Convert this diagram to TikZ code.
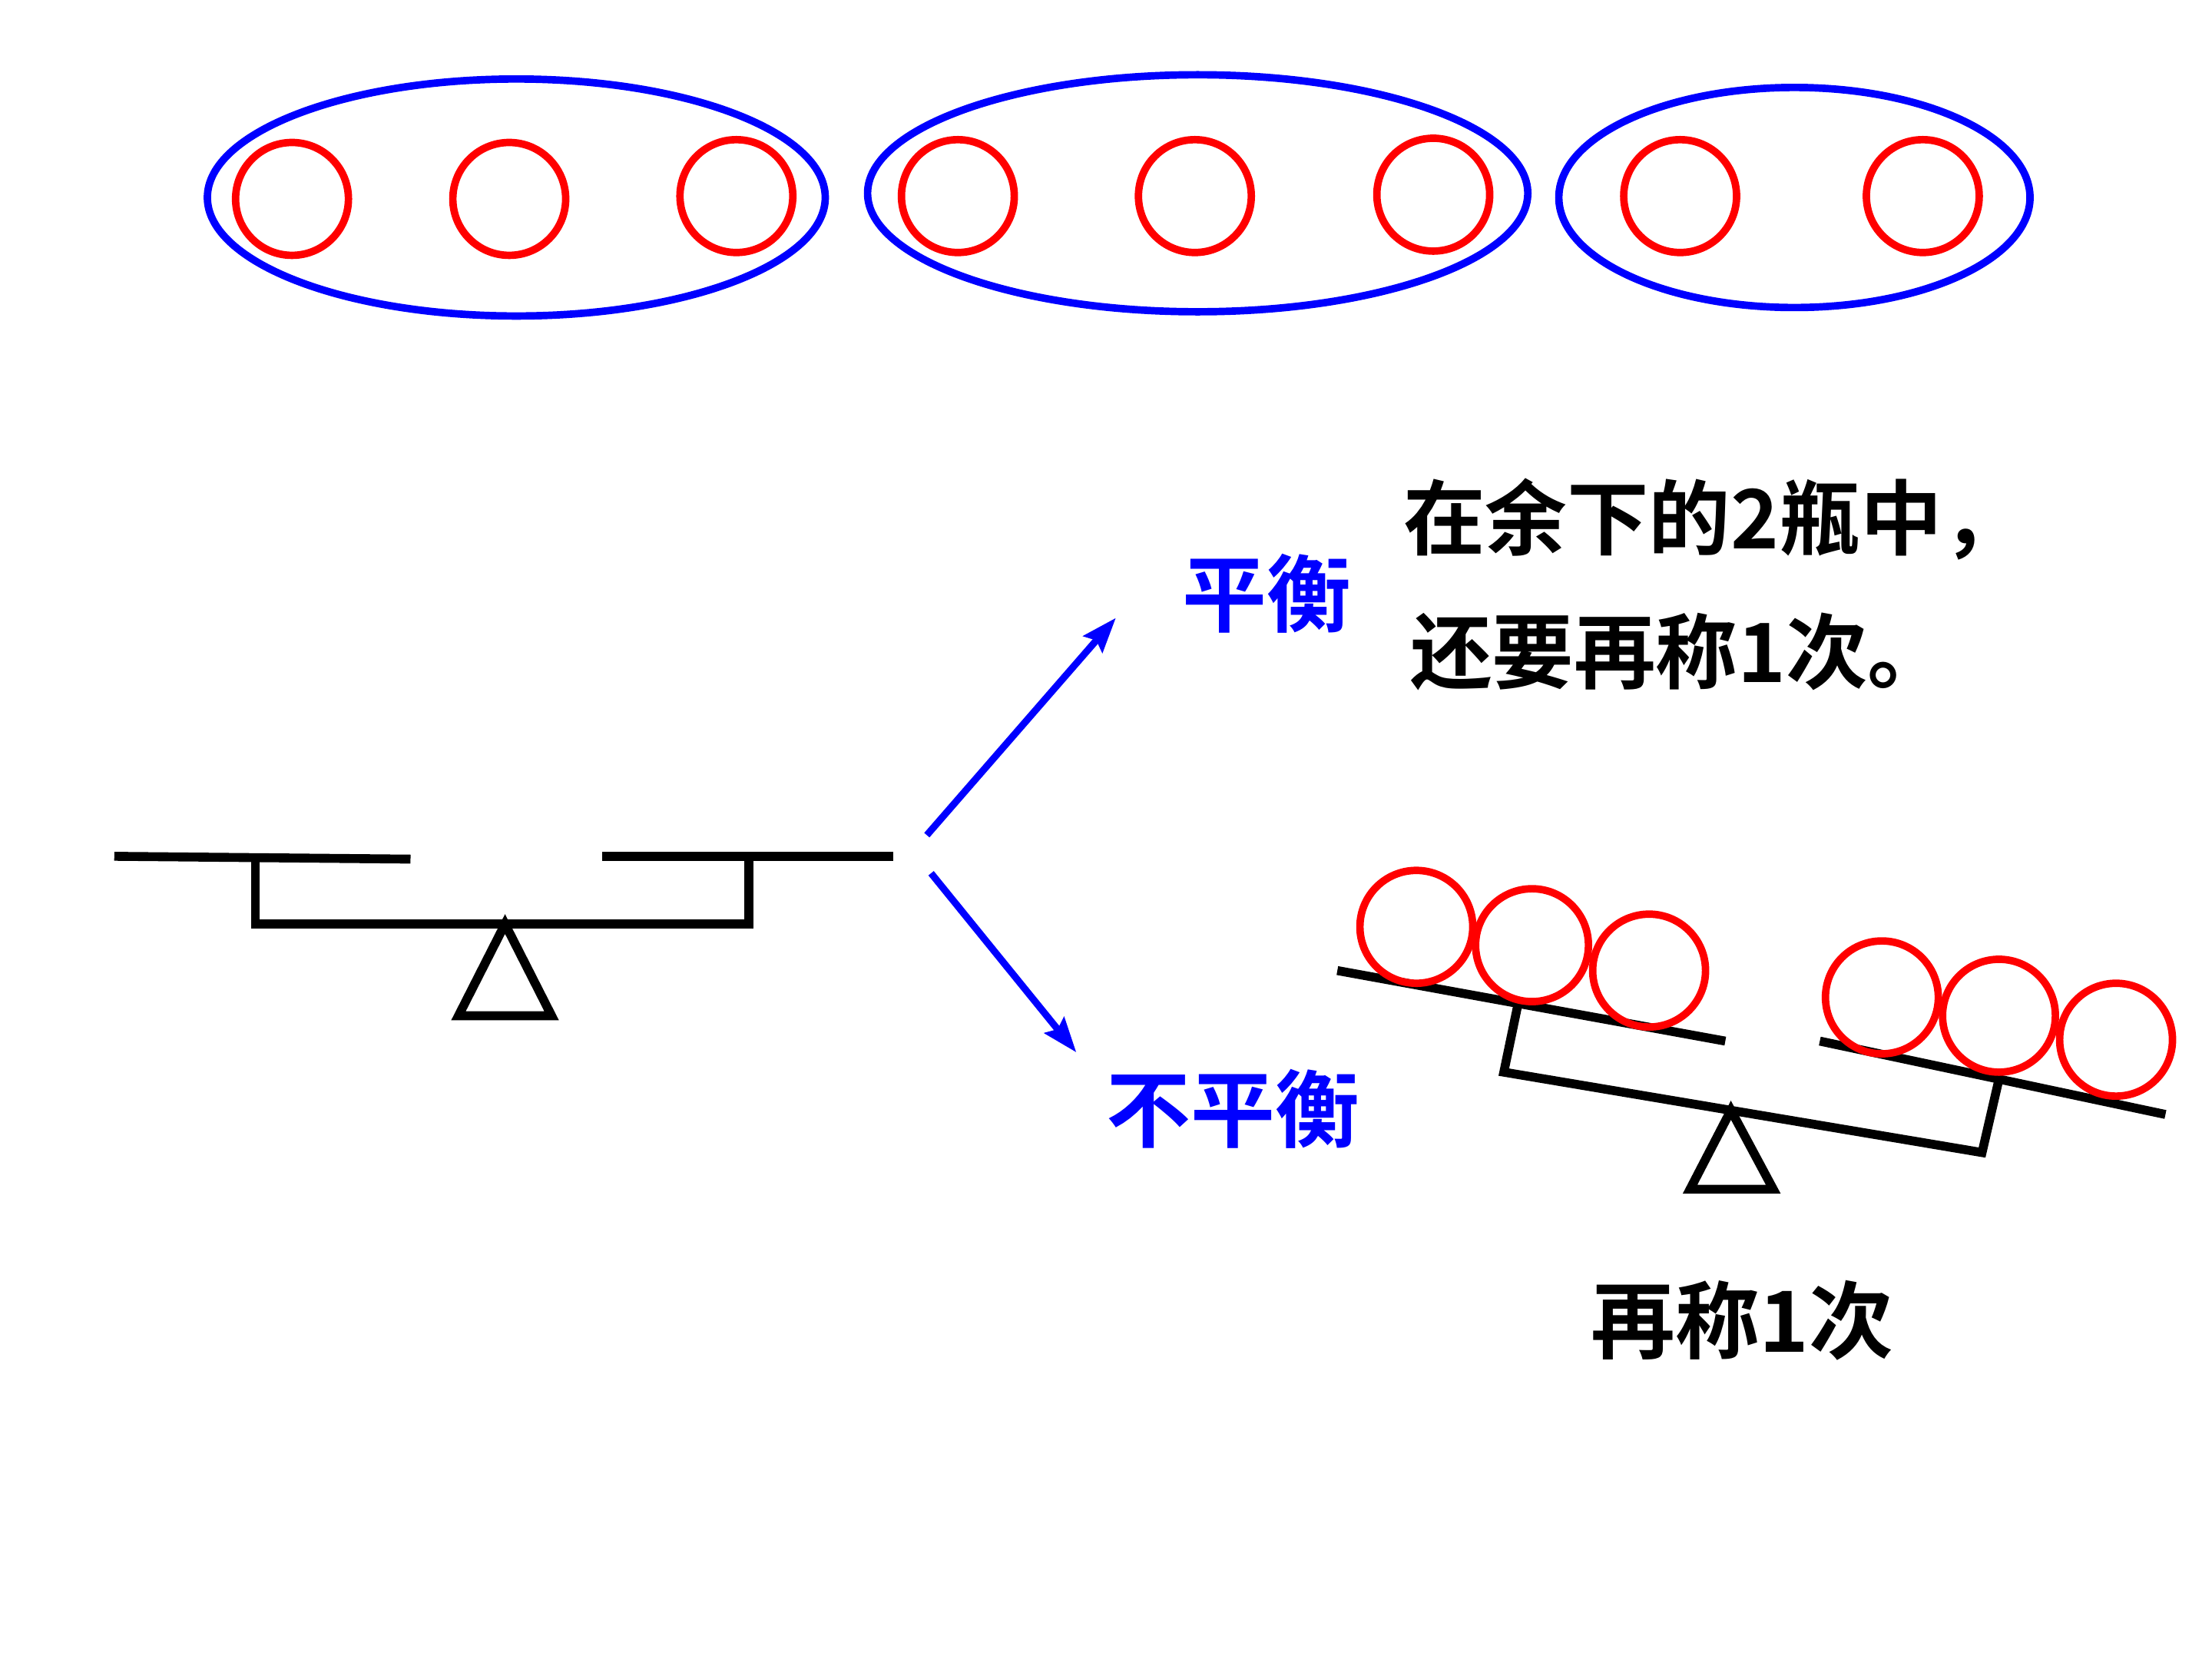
\documentclass[tikz,border=0pt]{standalone}
\usepackage{fontspec}
\newfontfamily\cjk{Noto Sans CJK SC}[BoldFont={Noto Sans CJK SC Bold}]
\usetikzlibrary{arrows.meta}
\definecolor{pblue}{RGB}{0,0,255}
\definecolor{pred}{RGB}{255,0,0}
\tikzset{
  grp/.style={draw=pblue,line width=1.5pt},
  ball/.style={draw=pred,line width=1.5pt},
  bar/.style={draw=black,line width=1.8pt},
  arr/.style={draw=pblue,line width=1.4pt,-{Stealth[length=7pt,width=5pt,inset=1pt]}},
  lbl/.style={font=\cjk\bfseries\fontsize{17}{20}\selectfont,inner sep=0pt},
  txt/.style={font=\cjk\bfseries\fontsize{16.5}{20}\selectfont,inner sep=0pt,anchor=west},
}
\begin{document}
\begin{tikzpicture}[x=0.01cm,y=-0.01cm]
\useasboundingbox[fill=white] (0,0) rectangle (1568,1176);
% top groups
\draw[grp] (366,140) ellipse [x radius=219,y radius=84];
\draw[grp] (849,137) ellipse [x radius=234,y radius=84];
\draw[grp] (1272,140) ellipse [x radius=167,y radius=78];
\foreach \x/\y in {207/141,361/141,522/139,679/139,847/139,1016/138,1191/139,1363/139}
  \draw[ball] (\x,\y) circle [radius=40];
% left balance
\draw[bar] (81,607) -- (291,609);
\draw[bar] (427,607) -- (633,607);
\draw[bar] (181,609) -- (181,655) -- (531,655) -- (531,607);
\draw[bar,line join=miter] (358,655) -- (325,720) -- (391,720) -- cycle;
% arrows
\coordinate (s1) at (657,592); \coordinate (e1) at (791,438);
\coordinate (s2) at (660,619); \coordinate (e2) at (763,746);
\draw[arr] (s1) -- (e1);
\draw[arr] (s2) -- (e2);
\node[lbl,text=pblue] (bal) at (898,421) {平衡};
\node[lbl,text=pblue] (unbal) at (874,786) {不平衡};
\node[txt] (t1) at (994,368) {在余下的2瓶中，};
\node[txt] (t2) at (999,462) {还要再称1次。};
% right balance (tilted)
\draw[bar] (948,688) -- (1223,738);
\draw[bar] (1290,738) -- (1535,790);
\draw[bar] (1076,712) -- (1066,760) -- (1405,817) -- (1417,765);
\draw[bar,line join=miter] (1227,787) -- (1198,843) -- (1257,843) -- cycle;
\foreach \x/\y in {1004/657,1086/670,1169/688,1334/707,1417/720,1500/737}
  \draw[ball] (\x,\y) circle [radius=40];
\node[lbl] (again) at (1235,936) {再称1次};
\end{tikzpicture}
\end{document}
